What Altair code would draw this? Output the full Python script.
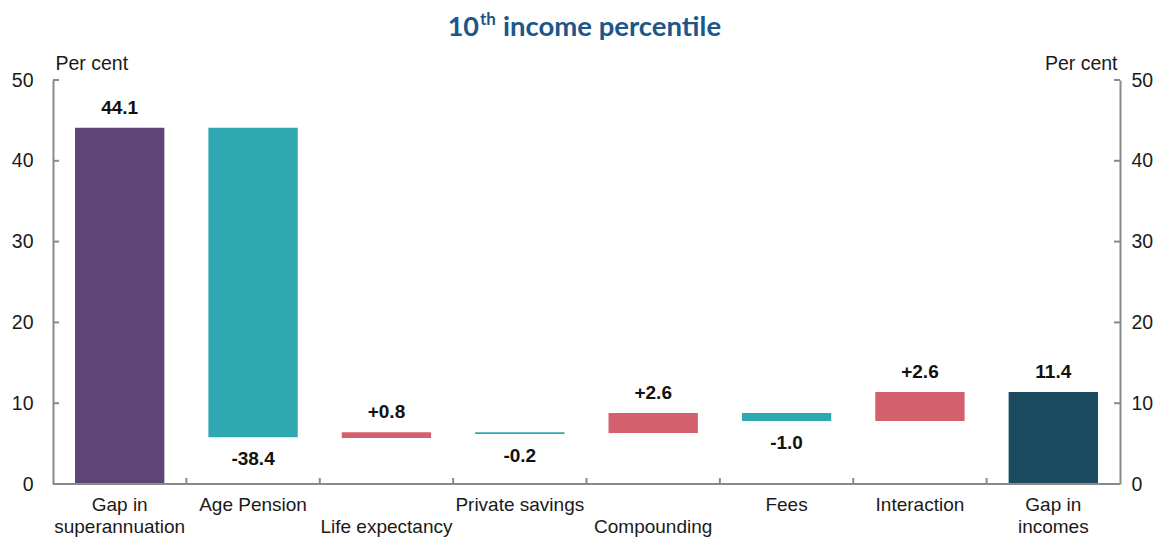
import altair as alt
import pandas as pd

categories = ["Gap in superannuation", "Age Pension", "Life expectancy", "Private savings",
              "Compounding", "Fees", "Interaction", "Gap in incomes"]
tick_labels = ["Gap in\nsuperannuation", "Age Pension", "\nLife expectancy", "Private  savings",
               "\nCompounding", "Fees", "Interaction", "Gap in\nincomes"]
starts = [0, 44.1, 5.7, 6.4, 6.3, 8.8, 7.8, 0]
ends = [44.1, 5.8, 6.4, 6.2, 8.8, 7.8, 11.4, 11.4]
value_labels = ["44.1", "-38.4", "+0.8", "-0.2", "+2.6", "-1.0", "+2.6", "11.4"]
kinds = ["total", "decrease", "increase", "decrease", "increase", "decrease", "increase", "final"]
label_side = ["above", "below", "above", "below", "above", "below", "above", "above"]
y_ticks = [0, 10, 20, 30, 40, 50]
tick_categories = categories[1:]

kind_domain = ["total", "decrease", "increase", "final"]
kind_colors = ["#5f4576", "#30a8b1", "#d4606e", "#1b4b5e"]

df = pd.DataFrame({
    "cat": categories, "start": starts, "end": ends, "tick_label": tick_labels,
    "label": value_labels, "kind": kinds, "side": label_side,
})
df["top"] = df[["start", "end"]].max(axis=1)
df["bottom"] = df[["start", "end"]].min(axis=1)
ticks_df = pd.DataFrame({"v": y_ticks})
xt_df = pd.DataFrame({"cat": tick_categories})
one_df = pd.DataFrame({"v": [0]})

W, H = 1067, 404
FONT = "Liberation Sans"
AX = "#8a8a8a"
TXT = "#1a1a1a"
ysc = alt.Scale(domain=[0, 50], nice=False, zero=True)
xsc = alt.Scale(domain=categories, paddingInner=0.33, paddingOuter=0.165)

base = alt.Chart(df)

bars = base.mark_bar().encode(
    x=alt.X("cat:N", scale=xsc, axis=None, sort=categories),
    y=alt.Y("start:Q", scale=ysc, axis=alt.Axis(
        orient="left", values=y_ticks, ticks=False, tickSize=0, grid=False,
        domainColor=AX, domainWidth=2, labelPadding=20, labelFontSize=19.5,
        labelFont=FONT, labelColor=TXT, title="Per cent", titleAngle=0,
        titleAlign="left", titleX=2, titleY=-11, titleBaseline="alphabetic",
        titleFontSize=19.5, titleFont=FONT, titleFontWeight="normal", titleColor=TXT)),
    y2="end:Q",
    color=alt.Color("kind:N", scale=alt.Scale(domain=kind_domain, range=kind_colors), legend=None),
)

above = base.transform_filter("datum.side == 'above'").mark_text(
    font=FONT, fontSize=19, fontWeight="bold", color="#111", baseline="bottom", dy=-10
).encode(
    x=alt.X("cat:N", scale=xsc, axis=None, sort=categories),
    y=alt.Y("top:Q", scale=ysc, axis=None),
    text="label:N",
)

below = base.transform_filter("datum.side == 'below'").mark_text(
    font=FONT, fontSize=19, fontWeight="bold", color="#111", baseline="top", dy=13
).encode(
    x=alt.X("cat:N", scale=xsc, axis=None, sort=categories),
    y=alt.Y("bottom:Q", scale=ysc, axis=None),
    text="label:N",
)

xlabels = base.mark_text(
    font=FONT, fontSize=19, color=TXT, baseline="top", lineBreak="\n", lineHeight=22
).encode(
    x=alt.X("cat:N", scale=xsc, axis=None, sort=categories),
    y=alt.value(H + 12),
    text="tick_label:N",
)

xdomain = alt.Chart(one_df).mark_rule(color=AX, strokeWidth=2).encode(
    x=alt.value(0), x2=alt.value(W), y=alt.value(H),
)

xticks = alt.Chart(xt_df).mark_rule(color=AX, strokeWidth=2, xOffset=-22).encode(
    x=alt.X("cat:N", scale=xsc, axis=None, sort=categories, bandPosition=0),
    y=alt.value(H),
    y2=alt.value(H - 6),
)

lticks = alt.Chart(ticks_df).mark_rule(color=AX, strokeWidth=2).encode(
    x=alt.value(0), x2=alt.value(6),
    y=alt.Y("v:Q", scale=ysc, axis=None),
)

rticks = alt.Chart(ticks_df).mark_rule(color=AX, strokeWidth=2).encode(
    x=alt.value(W - 6), x2=alt.value(W),
    y=alt.Y("v:Q", scale=ysc, axis=alt.Axis(
        orient="right", values=y_ticks, ticks=False, tickSize=0, grid=False,
        domainColor=AX, domainWidth=2, labelPadding=11, labelFontSize=19.5,
        labelFont=FONT, labelColor=TXT, title="Per cent", titleAngle=0,
        titleAlign="right", titleX=-3, titleY=-11, titleBaseline="alphabetic",
        titleFontSize=19.5, titleFont=FONT, titleFontWeight="normal", titleColor=TXT)),
)

TCOL = "#1d5689"
t1 = alt.Chart(one_df).mark_text(font="Lato", fontSize=27, fontWeight="bold",
                                 color=TCOL, align="right", baseline="alphabetic").encode(
    x=alt.value(426), y=alt.value(-44), text=alt.value("10"))
t2 = alt.Chart(one_df).mark_text(font="Lato", fontSize=17, fontWeight="bold",
                                 color=TCOL, align="left", baseline="alphabetic").encode(
    x=alt.value(427), y=alt.value(-55), text=alt.value("th"))
t3 = alt.Chart(one_df).mark_text(font="Lato", fontSize=27.5, fontWeight="bold",
                                 color=TCOL, align="left", baseline="alphabetic").encode(
    x=alt.value(450), y=alt.value(-44), text=alt.value("income percentile"))

chart = alt.layer(bars, above, below, xlabels, xdomain, xticks, lticks, rticks, t1, t2, t3).resolve_scale(
    y="independent"
).properties(
    width=W, height=H,
    background="white",
    autosize=alt.AutoSizeParams(type="none"),
    padding={"left": 45, "top": 72, "right": 36, "bottom": 54},
).configure_view(stroke=None)

chart.save("out.html", embed_options={"renderer": "svg", "actions": False})
